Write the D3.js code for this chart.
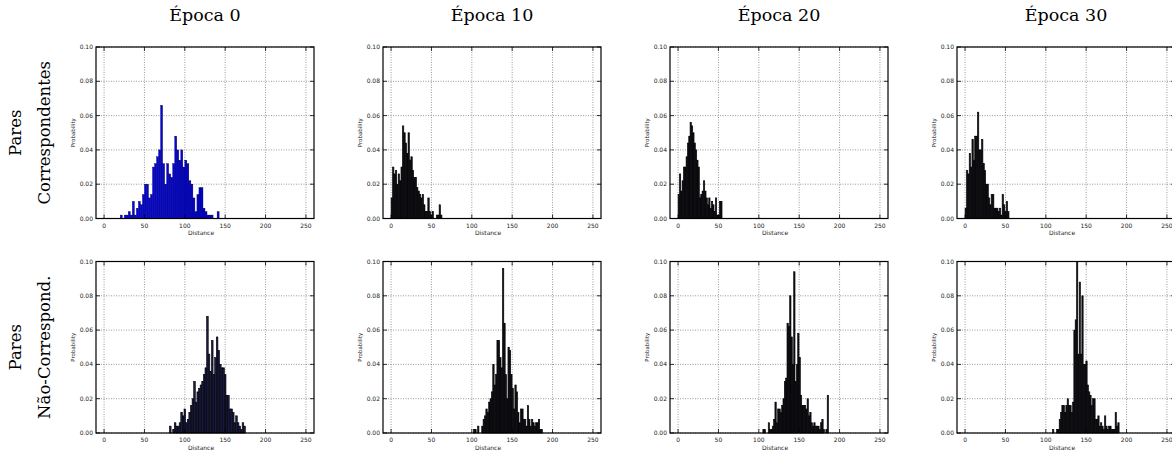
<!DOCTYPE html>
<html>
<head>
<meta charset="utf-8">
<script src="https://cdn.jsdelivr.net/npm/d3@7"></script>
<style>
  body { margin: 0; background: #fff; }
  svg text { font-family: "DejaVu Sans", sans-serif; }
</style>
</head>
<body>
<div id="chart"></div>
<script>
// column / row labels
const epochs = ["Época 0", "Época 10", "Época 20", "Época 30"];
const rowLabels = [["Pares", "Correspondentes"], ["Pares", "Não-Correspond."]];
const xTicks = [0, 50, 100, 150, 200, 250];
const yTicks = [0, 0.02, 0.04, 0.06, 0.08, 0.10];

// histogram bins: first bin edge, bin width, probabilities
const matchStarts = [20, 0, 0, 0];
const matchWidths = [2.5, 1.75, 1.65, 1.7];
const matchE0 = [0.002, 0, 0.002, 0.002, 0.004, 0.002, 0.010, 0.002, 0.006, 0.010, 0.008, 0.014,
  0.020, 0.020, 0.012, 0.014, 0.030, 0.032, 0.036, 0.040, 0.066, 0.032, 0.020, 0.032, 0.026,
  0.024, 0.032, 0.048, 0.040, 0.034, 0.040, 0.030, 0.034, 0.032, 0.022, 0.020, 0.012, 0.004,
  0.014, 0.018, 0.018, 0.006, 0.004, 0.002, 0.002, 0.002, 0, 0, 0.004];
const matchE10 = [0.012, 0.030, 0.026, 0.028, 0.020, 0.026, 0.022, 0.030, 0.054, 0.050, 0.044,
  0.038, 0.050, 0.034, 0.036, 0.028, 0.024, 0.024, 0.018, 0.016, 0.014, 0.012, 0.014, 0.008,
  0.004, 0.004, 0.012, 0.004, 0.002, 0.004, 0, 0, 0.002, 0.002, 0.008, 0.002];
const matchE20 = [0.014, 0.026, 0.016, 0.022, 0.030, 0.030, 0.036, 0.044, 0.048, 0.056, 0.054,
  0.050, 0.044, 0.040, 0.034, 0.030, 0.012, 0.014, 0.016, 0.022, 0.016, 0.012, 0.008, 0.012,
  0.006, 0.010, 0.008, 0.004, 0.012, 0.002, 0.002, 0.010, 0.010];
const matchE30 = [0.006, 0.028, 0.026, 0.038, 0.030, 0.046, 0.034, 0.048, 0.048, 0.062, 0.040,
  0.040, 0.046, 0.032, 0.028, 0.020, 0.020, 0.012, 0.008, 0.014, 0.014, 0.006, 0.006, 0.006,
  0.004, 0.006, 0.002, 0.014, 0.008, 0.004, 0.010, 0.004];

const nonMatchStarts = [81, 102, 105, 108.3];
const nonMatchWidths = [2, 1.71, 1.66, 1.65];
const nonMatchE0 = [0.004, 0, 0.002, 0.006, 0.004, 0.004, 0.006, 0.012, 0.010, 0.014, 0.006,
  0.008, 0.012, 0.016, 0.020, 0.030, 0.018, 0.024, 0.026, 0.028, 0.030, 0.034, 0.038, 0.068,
  0.046, 0.036, 0.054, 0.034, 0.044, 0.056, 0.048, 0.040, 0.038, 0.038, 0.034, 0.022, 0.022,
  0.014, 0.014, 0.012, 0.006, 0.010, 0.006, 0.004, 0.002, 0.006, 0.004];
const nonMatchE10 = [0.002, 0.002, 0, 0.004, 0, 0, 0.004, 0.008, 0.010, 0.014, 0.012, 0.018,
  0.020, 0.024, 0.040, 0.028, 0.034, 0.054, 0.054, 0.044, 0.038, 0.096, 0.064, 0.034, 0.020,
  0.050, 0.048, 0.034, 0.026, 0.014, 0.028, 0.024, 0.012, 0.006, 0.014, 0.014, 0.008, 0.008,
  0.004, 0.016, 0.008, 0.004, 0.008, 0.006, 0.004, 0.006, 0.006, 0.008, 0.002, 0.002];
const nonMatchE20 = [0.002, 0.002, 0, 0, 0.006, 0.002, 0.002, 0.004, 0.008, 0.018, 0.006, 0.014,
  0.014, 0.012, 0.016, 0.020, 0.030, 0.032, 0.064, 0.062, 0.080, 0.056, 0.040, 0.094, 0.030,
  0.040, 0.058, 0.044, 0.022, 0.016, 0.016, 0.016, 0.014, 0.020, 0.010, 0.012, 0.006, 0.004,
  0.006, 0.004, 0.004, 0.004, 0.002, 0.006, 0.008, 0.002, 0, 0.002, 0.022];
const nonMatchE30 = [0.002, 0, 0, 0.002, 0.002, 0.008, 0.012, 0.016, 0.016, 0.012, 0.016, 0.020,
  0.016, 0.016, 0.012, 0.018, 0.060, 0.066, 0.100, 0.046, 0.088, 0.046, 0.080, 0.040, 0.040,
  0.042, 0.028, 0.024, 0.022, 0.016, 0.020, 0.020, 0.008, 0.008, 0.010, 0.004, 0.006, 0.004,
  0.002, 0.010, 0.004, 0.002, 0.004, 0.004, 0.002, 0.002, 0.002, 0.012, 0.004, 0.006];

const rows = [
  { starts: matchStarts, widths: matchWidths, series: [matchE0, matchE10, matchE20, matchE30] },
  { starts: nonMatchStarts, widths: nonMatchWidths, series: [nonMatchE0, nonMatchE10, nonMatchE20, nonMatchE30] }
];

const W = 1172, H = 450;
const panelW = 218, panelH = 171.5;
const lefts = [96, 383, 670, 957];
const tops = [47, 261.5];
const serif = "'DejaVu Serif', 'Liberation Serif', serif";

// bars get darker as they get narrower (black edges dominate)
const barFill = (r, c) => {
  if (c > 0) return "#101018";
  return r === 0 ? "#0000f0" : "#1a1a48";
};

const svg = d3.select("#chart").append("svg")
  .attr("width", W).attr("height", H);

const x = d3.scaleLinear().domain([-10, 260]).range([0, panelW]);
const y = d3.scaleLinear().domain([0, 0.10]).range([panelH, 0]);

// column titles
svg.selectAll(".title")
  .data(epochs)
  .enter().append("text")
  .attr("x", (d, i) => lefts[i] + panelW / 2)
  .attr("y", 21)
  .attr("text-anchor", "middle")
  .style("font-family", serif)
  .style("font-size", "17.5px")
  .text(d => d);

// row labels (rotated)
rowLabels.forEach((lines, r) => {
  const cy = tops[r] + panelH / 2;
  lines.forEach((t, k) => {
    const bx = k === 0 ? 21 : 50;
    svg.append("text")
      .attr("transform", `translate(${bx},${cy}) rotate(-90)`)
      .attr("text-anchor", "middle")
      .style("font-family", serif)
      .style("font-size", "16.5px")
      .text(t);
  });
});

rows.forEach((row, r) => {
  row.series.forEach((vals, c) => {
    const g = svg.append("g")
      .attr("transform", `translate(${lefts[c]},${tops[r]})`);

    // grid
    g.selectAll(".gx").data(xTicks).enter().append("line")
      .attr("x1", d => x(d)).attr("x2", d => x(d))
      .attr("y1", 0).attr("y2", panelH)
      .attr("stroke", "#555").attr("stroke-width", 0.6)
      .attr("stroke-dasharray", "1,1.5");
    g.selectAll(".gy").data(yTicks).enter().append("line")
      .attr("x1", 0).attr("x2", panelW)
      .attr("y1", d => y(d)).attr("y2", d => y(d))
      .attr("stroke", "#555").attr("stroke-width", 0.6)
      .attr("stroke-dasharray", "1,1.5");

    // bars
    const start = row.starts[c], bw = row.widths[c];
    g.selectAll(".bar").data(vals).enter().append("rect")
      .attr("x", (d, i) => x(start + i * bw))
      .attr("y", d => y(d))
      .attr("width", x(bw) - x(0))
      .attr("height", d => panelH - y(d))
      .attr("fill", barFill(r, c))
      .attr("stroke", "#000")
      .attr("stroke-width", r === 0 && c === 0 ? 0.35 : 0.6);

    // ticks inward on all sides
    const tk = 4;
    xTicks.forEach(t => {
      g.append("line").attr("x1", x(t)).attr("x2", x(t)).attr("y1", panelH).attr("y2", panelH - tk)
        .attr("stroke", "#000").attr("stroke-width", 0.8);
      g.append("line").attr("x1", x(t)).attr("x2", x(t)).attr("y1", 0).attr("y2", tk)
        .attr("stroke", "#000").attr("stroke-width", 0.8);
    });
    yTicks.forEach(t => {
      g.append("line").attr("x1", 0).attr("x2", tk).attr("y1", y(t)).attr("y2", y(t))
        .attr("stroke", "#000").attr("stroke-width", 0.8);
      g.append("line").attr("x1", panelW).attr("x2", panelW - tk).attr("y1", y(t)).attr("y2", y(t))
        .attr("stroke", "#000").attr("stroke-width", 0.8);
    });

    // frame
    g.append("rect")
      .attr("width", panelW).attr("height", panelH)
      .attr("fill", "none").attr("stroke", "#000").attr("stroke-width", 1.2);

    // tick labels
    g.selectAll(".xl").data(xTicks).enter().append("text")
      .attr("x", d => x(d)).attr("y", panelH + 9)
      .attr("text-anchor", "middle")
      .style("font-size", "6px").attr("fill", "#222")
      .text(d => d);
    g.selectAll(".yl").data(yTicks).enter().append("text")
      .attr("x", -3).attr("y", d => y(d) + 2)
      .attr("text-anchor", "end")
      .style("font-size", "6px").attr("fill", "#222")
      .text(d => d.toFixed(2));

    g.append("text")
      .attr("x", panelW / 2 - 4).attr("y", panelH + 16.5)
      .attr("text-anchor", "middle")
      .style("font-size", "6px").attr("fill", "#222")
      .text("Distance");
    g.append("text")
      .attr("transform", `translate(-21,${panelH / 2}) rotate(-90)`)
      .attr("text-anchor", "middle")
      .style("font-size", "5.5px").attr("fill", "#222")
      .text("Probability");
  });
});
</script>
</body>
</html>
